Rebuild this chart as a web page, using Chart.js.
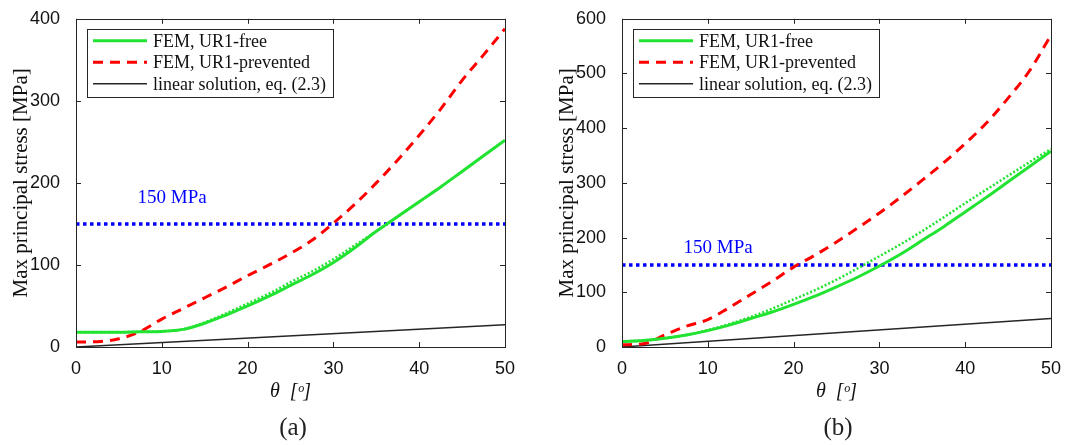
<!DOCTYPE html>
<html>
<head>
<meta charset="utf-8">
<script src="https://cdn.jsdelivr.net/npm/chart.js@4"></script>
<style>
  body { margin: 0; background: #fff; width: 1071px; height: 445px; position: relative; overflow: hidden; }
  canvas { position: absolute; top: 0; }
  #ca { left: 0; }
  #cb { left: 546px; }
  .cap { position: absolute; top: 413px; font: 25px "Liberation Serif", serif; color: #222; transform: translateX(-50%); }
</style>
</head>
<body>
<canvas id="ca" width="535" height="445"></canvas>
<canvas id="cb" width="525" height="445"></canvas>
<div class="cap" style="left:293px">(a)</div>
<div class="cap" style="left:838px">(b)</div>
<script>
// angle samples (deg)
const theta = [0, 2.5, 5, 7.5, 10, 12.5, 15, 17.5, 20, 22.5, 25, 27.5, 30, 32.5, 35, 37.5, 40, 42.5, 45, 47.5, 50];
const thetaEnds = [0, 50];

// panel (a)
const freeA    = [18, 18, 18, 18.5, 19, 21.5, 29, 39, 50, 62, 75, 88, 103, 121, 141, 159, 177, 195, 214, 233, 252];
const freeDotA = [18, 18, 18, 18.5, 19, 21.5, 30, 41, 53, 65, 79, 92, 107, 124, 141, 159, 177, 195, 214, 233, 252];
const prevA    = [6, 6.5, 10, 19, 34, 47, 60, 73, 87, 100, 114, 130, 151, 174, 200, 228, 258, 290, 325, 356, 388];
const linA     = [0, 27];
const limitA   = [150, 150];

// panel (b)
const freeB    = [10, 12, 16, 22, 30, 40, 52, 64, 78, 93, 110, 128, 148, 170, 195, 220, 247, 274, 302, 330, 358];
const freeDotB = [10, 12, 16, 22, 31, 42, 55, 70, 87, 104, 123, 144, 166, 188, 212, 237, 263, 288, 313, 338, 362];
const prevB    = [4, 6, 22, 38, 50, 72, 96, 120, 146, 168, 192, 218, 245, 274, 305, 337, 372, 410, 455, 505, 570];
const linB     = [0, 52];
const limitB   = [150, 150];

const legendLabels = ["FEM, UR1-free", "FEM, UR1-prevented", "linear solution, eq. (2.3)"];
const limitText = "150 MPa";
const limitTextAt = [11.2, 181];

const GREEN = "rgb(34,226,50)";
const RED = "rgb(255,0,0)";
const BLUE = "rgb(0,0,255)";
const DARK = "#262626";
const SERIF = '"Liberation Serif", "DejaVu Serif", serif';
const SANS = '"Liberation Sans", Arial, sans-serif';

const pts = (xs, ys) => xs.map((x, i) => ({ x: x, y: ys[i] }));

const framePlugin = {
  id: "frame",
  afterDatasetsDraw(chart) {
    const { ctx, chartArea: a, scales: { x, y } } = chart;
    ctx.save();
    ctx.strokeStyle = DARK;
    ctx.lineWidth = 1;
    ctx.strokeRect(Math.round(a.left) + 0.5, Math.round(a.top) + 0.5, Math.round(a.right - a.left), Math.round(a.bottom - a.top));
    ctx.beginPath();
    x.ticks.forEach((t, i) => {
      const px = Math.round(x.getPixelForTick(i)) + 0.5;
      ctx.moveTo(px, a.bottom); ctx.lineTo(px, a.bottom - 5);
      ctx.moveTo(px, a.top); ctx.lineTo(px, a.top + 5);
    });
    y.ticks.forEach((t, i) => {
      const py = Math.round(y.getPixelForTick(i)) + 0.5;
      ctx.moveTo(a.left, py); ctx.lineTo(a.left + 5, py);
      ctx.moveTo(a.right, py); ctx.lineTo(a.right - 5, py);
    });
    ctx.stroke();

    // threshold label
    ctx.fillStyle = BLUE;
    ctx.font = "19px " + SERIF;
    ctx.textAlign = "center";
    ctx.textBaseline = "middle";
    ctx.fillText(limitText, x.getPixelForValue(limitTextAt[0]), y.getPixelForValue(limitTextAt[1]));

    // legend box
    const lx = a.left + 11, ly = a.top + 10, lw = 246, lh = 68;
    ctx.fillStyle = "#fff";
    ctx.fillRect(lx, ly, lw, lh);
    ctx.strokeStyle = DARK;
    ctx.lineWidth = 1;
    ctx.setLineDash([]);
    ctx.strokeRect(Math.round(lx) + 0.5, Math.round(ly) + 0.5, lw, lh);
    ctx.font = "18px " + SERIF;
    ctx.textAlign = "left";
    legendLabels.forEach((lab, i) => {
      const ds = chart.data.datasets[i];
      const cy = ly + 12 + i * 21.5;
      ctx.beginPath();
      ctx.strokeStyle = ds.borderColor;
      ctx.lineWidth = ds.borderWidth;
      ctx.setLineDash(ds.borderDash || []);
      ctx.moveTo(lx + 6, cy); ctx.lineTo(lx + 60, cy);
      ctx.stroke();
      ctx.setLineDash([]);
      ctx.fillStyle = "#111";
      ctx.fillText(lab, lx + 66, cy + 1);
    });
    ctx.restore();
  }
};

function makeChart(id, free, freeDot, prev, lin, limit, yMax, yStep, rightPad) {
  return new Chart(document.getElementById(id), {
    type: "line",
    data: {
      datasets: [
        { data: pts(theta, free), borderColor: GREEN, borderWidth: 3, cubicInterpolationMode: "monotone" },
        { data: pts(theta, prev), borderColor: RED, borderWidth: 3, borderDash: [10, 7], cubicInterpolationMode: "monotone" },
        { data: pts(thetaEnds, lin), borderColor: DARK, borderWidth: 1.5 },
        { data: pts(theta, freeDot), borderColor: GREEN, borderWidth: 2.5, borderDash: [2, 2], cubicInterpolationMode: "monotone" },
        { data: pts(thetaEnds, limit), borderColor: BLUE, borderWidth: 3.5, borderDash: [3.5, 3.5] }
      ]
    },
    options: {
      responsive: false,
      animation: false,
      devicePixelRatio: 1,
      elements: { point: { radius: 0 } },
      layout: { padding: { left: 0, top: 16, right: rightPad, bottom: 41 } },
      plugins: { legend: { display: false }, tooltip: { enabled: false } },
      scales: {
        x: {
          type: "linear", min: 0, max: 50,
          grid: { display: false },
          border: { display: false },
          ticks: { stepSize: 10, padding: 3, color: "#111", font: { family: SANS, size: 18 } },
          title: { display: true, text: "θ  [ᵒ]", color: "#111", padding: { top: 0, bottom: 0 }, font: { family: SERIF, size: 20, style: "italic" } },
          afterFit: s => { s.height = 57; }
        },
        y: {
          min: 0, max: yMax,
          grid: { display: false },
          border: { display: false },
          ticks: { stepSize: yStep, padding: 8, color: "#111", font: { family: SANS, size: 18 } },
          title: { display: true, text: "Max principal stress [MPa]", color: "#111", padding: { top: 9, bottom: 0 }, font: { family: SERIF, size: 21 } },
          afterFit: s => { s.width = 76; }
        }
      }
    },
    plugins: [framePlugin]
  });
}

makeChart("ca", freeA, freeDotA, prevA, linA, limitA, 400, 100, 30);
makeChart("cb", freeB, freeDotB, prevB, linB, limitB, 600, 100, 20);
</script>
</body>
</html>
